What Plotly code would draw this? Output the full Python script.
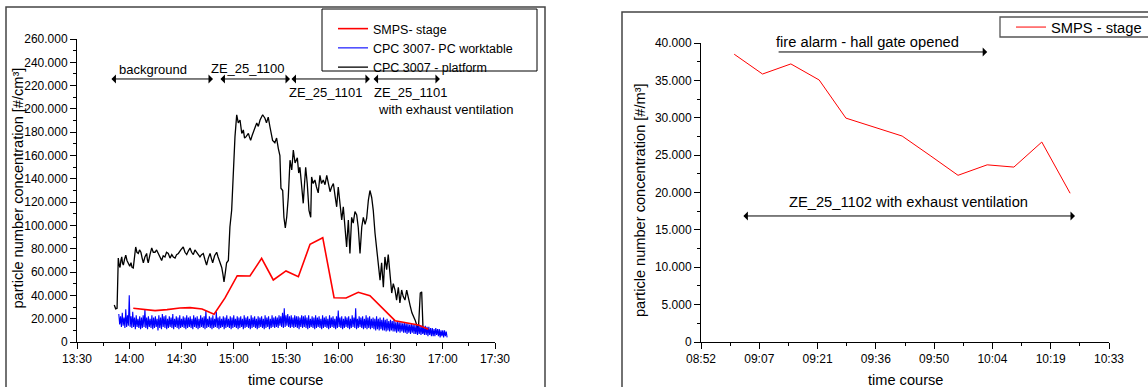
import plotly.graph_objects as go

W, H = 1148, 387
FONT = "Liberation Sans, Arial, sans-serif"

# ---------------- data: left panel (times in minutes after midnight) ----------------
platform_t = [831.4, 832.2, 833.0, 833.7, 834.2, 834.7, 835.2, 835.7, 836.1, 836.6, 837.3, 838.0, 838.7, 839.5,
              840.3, 841.0, 841.6, 842.3, 843.0, 843.7, 844.4, 845.2, 845.9, 846.7, 847.4, 848.1, 849.0, 850.0,
              850.4, 850.9, 851.9, 852.9, 853.8, 854.8, 855.7, 856.7, 857.6, 858.6, 859.5, 860.5, 861.4, 862.4,
              863.4, 864.4, 865.3, 866.3, 867.2, 868.2, 869.6, 871.0, 872.0, 873.0, 873.9, 874.9, 875.8, 876.8,
              877.7, 878.7, 879.6, 880.6, 881.5, 882.5, 883.4, 884.4, 885.4, 886.4, 887.1, 887.9, 889.0, 890.2,
              891.0, 891.7, 892.4, 893.1, 893.8, 894.4, 895.2, 895.9, 896.9, 897.8, 898.8, 899.7, 900.7, 901.7,
              902.2, 902.6, 903.6, 904.6, 905.5, 906.2, 907.0, 908.4, 909.0, 909.7, 910.5, 911.2, 912.2, 913.2,
              914.1, 915.1, 916.6, 917.9, 918.8, 919.8, 920.8, 921.5, 922.3, 923.6, 924.6, 925.6, 926.5, 927.1,
              928.1, 928.8, 929.6, 930.4, 931.3, 932.3, 933.3, 934.2, 935.2, 936.5, 937.3, 938.0, 939.0, 939.9,
              940.6, 941.3, 942.2, 943.2, 944.2, 944.7, 945.6, 946.6, 947.5, 948.5, 949.5, 950.4, 951.4, 952.4,
              953.4, 954.3, 955.3, 956.2, 957.2, 958.2, 959.1, 960.0, 961.0, 962.0, 962.9, 963.9, 964.8, 965.8,
              966.7, 967.7, 968.6, 969.6, 970.6, 971.5, 972.5, 973.5, 974.4, 975.4, 976.3, 977.3, 978.2, 979.2,
              980.1, 981.1, 982.1, 983.0, 984.0, 984.9, 985.9, 986.8, 987.8, 988.7, 989.7, 990.7, 991.6, 992.6,
              993.5, 994.5, 995.4, 996.4, 997.3, 998.3, 999.3, 1000.2, 1001.2, 1002.3, 1004.1, 1006.0, 1007.1,
              1007.9, 1008.7, 1009.5]
platform_k = [31.7, 28.5, 29, 72, 66, 64, 70, 73, 68, 66, 71, 74.6, 70, 67.8,
              65, 68, 64, 63.5, 72, 81.5, 77, 76, 79, 77, 72, 68, 73, 76,
              71, 68, 75, 80.7, 77, 77, 79, 76, 73, 70, 74, 73, 77, 76,
              72, 75, 73, 72, 75, 76, 79, 81.5, 77, 75, 78, 80.7, 77, 75,
              79, 77, 75, 73, 75, 76, 71, 66, 72, 76, 72, 68, 74, 77,
              73, 70, 66, 64, 58, 51.5, 60, 68, 70, 98.7, 113, 150, 176, 195,
              190, 188, 190.5, 179, 182, 175, 176, 179, 176, 173, 177, 180, 183, 188,
              185, 190.5, 195, 192, 188, 193, 184.5, 178, 173, 171, 175, 166, 160, 132,
              130, 107, 98, 107, 124, 156, 147.6, 164.7, 153.6, 158, 145, 150, 133, 119,
              135, 150, 136, 113, 107, 141.6, 136, 139, 133, 128, 143, 136, 139, 135,
              143, 137, 129, 133, 136, 125, 116, 133, 120, 104.7, 116, 96, 81.5, 104.7,
              76, 107, 102, 112, 109, 98, 76, 98.7, 107, 101, 106, 121.8, 130, 124,
              113, 93.5, 79, 70, 53, 68, 47, 73, 62, 75, 56, 42, 50, 44.6,
              36, 47, 33.5, 44.6, 39, 36, 44.6, 37, 31.7, 25, 19, 10.3, 42,
              43, 10.3, 7.7]

# CPC worktable: per-minute maximum and minimum readings, starting at 13:54
worktable_start = 834
worktable_hi_k = [24, 22, 25, 21, 28, 23, 40, 22, 26, 21, 23, 20, 22, 21, 23, 28, 21, 22, 20, 23,
                  21, 22, 20, 23, 21, 24, 22, 23, 20, 22, 21, 24, 20, 22, 21, 23, 20, 22, 21, 23,
                  21, 22, 20, 23, 21, 22, 20, 23, 21, 22, 27, 20, 22, 21, 23, 20, 26, 21, 22, 20,
                  22, 21, 23, 20, 22, 21, 23, 20, 22, 21, 22, 20, 23, 21, 22, 20, 23, 21, 22, 20,
                  22, 21, 22, 20, 23, 21, 22, 20, 23, 21, 22, 21, 23, 22, 25, 29, 23, 24, 22, 23,
                  21, 23, 22, 22, 21, 23, 22, 23, 21, 23, 20, 22, 21, 23, 21, 22, 20, 23, 21, 22,
                  20, 23, 21, 22, 20, 22, 27, 21, 22, 20, 22, 21, 22, 20, 23, 21, 29, 20, 22, 21,
                  22, 20, 23, 21, 22, 20, 21, 20, 22, 20, 21, 19, 21, 19, 20, 18, 19, 18, 19, 17,
                  18, 17, 17, 16, 17, 16, 16, 15, 16, 15, 15, 14, 15, 14, 14, 13, 14, 13, 13, 12,
                  12, 11, 12, 11, 11, 10, 10, 10, 9]
worktable_lo_k = [15, 13, 14, 12, 13, 14, 13, 12, 13, 11, 13, 12, 11, 12, 13, 12, 11, 13, 12, 11,
                  12, 13, 10, 12, 11, 13, 12, 11, 12, 13, 12, 11, 13, 12, 11, 12, 13, 12, 11, 12,
                  13, 12, 11, 13, 12, 11, 12, 13, 12, 11, 12, 13, 12, 11, 12, 13, 12, 11, 12, 13,
                  11, 12, 13, 12, 11, 12, 13, 12, 11, 12, 13, 11, 12, 13, 12, 11, 12, 13, 12, 11,
                  12, 13, 12, 11, 12, 13, 11, 12, 13, 12, 13, 12, 14, 13, 12, 13, 14, 13, 12, 13,
                  12, 13, 12, 11, 13, 12, 13, 12, 11, 12, 13, 12, 11, 12, 13, 12, 11, 12, 13, 12,
                  11, 12, 13, 12, 11, 12, 13, 12, 11, 12, 13, 12, 11, 12, 13, 12, 11, 12, 13, 12,
                  11, 12, 11, 12, 11, 12, 11, 10, 11, 10, 11, 10, 10, 9, 10, 9, 10, 9, 9, 8,
                  9, 8, 9, 8, 8, 7, 8, 7, 8, 7, 7, 6, 7, 6, 7, 6, 6, 5, 6, 5,
                  5, 5, 6, 5, 4, 5, 4, 5, 4]
worktable_t = []
worktable_k = []
for i, (hi, lo) in enumerate(zip(worktable_hi_k, worktable_lo_k)):
    worktable_t += [worktable_start + i, worktable_start + i + 0.5]
    worktable_k += [hi, lo]

smps_left_t = [842.3, 849.0, 854.8, 861.7, 869.1, 874.9, 881.8, 888.7, 895.0, 902.0, 909.3, 916.0,
               922.7, 930.0, 937.1, 943.8, 951.1, 957.6, 964.5, 971.5, 978.2, 992.6, 1006.0, 1011.7]
smps_left_k = [28.9, 27.8, 26.9, 27.8, 29.2, 29.5, 28.3, 23.8, 37.8, 56.9, 56.6, 71.8,
               53.2, 61.0, 56.0, 83.8, 89.5, 38.0, 37.8, 42.6, 39.7, 18.3, 14.6, 10.9]

left_x_ticks = [810, 840, 870, 900, 930, 960, 990, 1020, 1050]
left_x_labels = ["13:30", "14:00", "14:30", "15:00", "15:30", "16:00", "16:30", "17:00", "17:30"]
left_y_ticks = list(range(0, 260001, 20000))
left_y_labels = ["0"] + [f"{v // 1000}.000" for v in left_y_ticks[1:]]

# ---------------- data: right panel ----------------
smps_right_t = [541.0, 548.0, 555.0, 562.0, 568.6, 575.5, 582.5, 589.4, 596.3, 603.5, 610.1, 617.0, 624.0]
smps_right_k = [38.5, 35.85, 37.2, 35.05, 29.95, 28.75, 27.55, 24.95, 22.3, 23.7, 23.4, 26.75, 19.9]

right_x_ticks = [532.8, 547.2, 561.6, 576.0, 590.4, 604.8, 619.2, 633.6]
right_x_labels = ["08:52", "09:07", "09:21", "09:36", "09:50", "10:04", "10:19", "10:33"]
right_y_ticks = list(range(0, 40001, 5000))
right_y_labels = ["0"] + [f"{v // 1000}.000" for v in right_y_ticks[1:]]


def px(x):
    return x / W


def py(y):
    return 1 - y / H


fig = go.Figure()

fig.add_trace(go.Scatter(x=platform_t, y=[v * 1000 for v in platform_k], mode="lines",
                         line=dict(color="black", width=1.3), name="CPC 3007 - platform",
                         xaxis="x", yaxis="y", legend="legend", legendrank=3))
fig.add_trace(go.Scatter(x=worktable_t, y=[v * 1000 for v in worktable_k], mode="lines",
                         line=dict(color="#0000FF", width=1.1), name="CPC 3007- PC worktable",
                         xaxis="x", yaxis="y", legend="legend", legendrank=2))
fig.add_trace(go.Scatter(x=smps_left_t, y=[v * 1000 for v in smps_left_k], mode="lines",
                         line=dict(color="#FF0000", width=1.6), name="SMPS- stage",
                         xaxis="x", yaxis="y", legend="legend", legendrank=1))
fig.add_trace(go.Scatter(x=smps_right_t, y=[v * 1000 for v in smps_right_k], mode="lines",
                         line=dict(color="#FF0000", width=1), name="SMPS - stage",
                         xaxis="x2", yaxis="y2", legend="legend2"))

axis_common = dict(showline=True, linecolor="black", linewidth=1, ticks="outside", ticklen=6,
                   tickcolor="black", tickwidth=1, showgrid=False, zeroline=False, automargin=False,
                   tickfont=dict(family=FONT, size=12, color="black"), tickmode="array")

fig.update_layout(
    width=W, height=H, margin=dict(l=0, r=0, t=0, b=0, autoexpand=False),
    paper_bgcolor="white", plot_bgcolor="white",
    font=dict(family=FONT, color="black"),
    xaxis=dict(domain=[px(77), px(495)], range=[810, 1050], tickvals=left_x_ticks, ticktext=left_x_labels,
               minor=dict(tickmode="array", tickvals=[t + 15 for t in left_x_ticks[:-1]], ticklen=3,
                          ticks="outside", tickcolor="black"),
               anchor="y", **axis_common),
    yaxis=dict(domain=[py(342), py(39)], range=[0, 260000], tickvals=left_y_ticks, ticktext=left_y_labels,
               minor=dict(tickmode="array", tickvals=[t + 10000 for t in left_y_ticks[:-1]], ticklen=3,
                          ticks="outside", tickcolor="black"),
               anchor="x", **axis_common),
    xaxis2=dict(domain=[px(701), px(1109)], range=[532.8, 633.6], tickvals=right_x_ticks, ticktext=right_x_labels,
                minor=dict(tickmode="array", tickvals=[t + 7.2 for t in right_x_ticks[:-1]], ticklen=3,
                           ticks="outside", tickcolor="black"),
                anchor="y2", **axis_common),
    yaxis2=dict(domain=[py(342), py(43)], range=[0, 40000], tickvals=right_y_ticks, ticktext=right_y_labels,
                minor=dict(tickmode="array", tickvals=[t + 2500 for t in right_y_ticks[:-1]], ticklen=3,
                           ticks="outside", tickcolor="black"),
                anchor="x2", **axis_common),
    legend=dict(x=px(333), y=py(14), xanchor="left", yanchor="top", bgcolor="rgba(0,0,0,0)",
                borderwidth=0, font=dict(family=FONT, size=12.5, color="black"), tracegroupgap=0),
    legend2=dict(x=px(1011), y=py(11), xanchor="left", yanchor="top", bgcolor="rgba(0,0,0,0)",
                 borderwidth=0, font=dict(family=FONT, size=14.7, color="black")),
)

shapes = [
    # outer frames
    dict(type="rect", xref="paper", yref="paper", x0=px(6), x1=px(545), y0=py(420), y1=py(7),
         line=dict(color="#444444", width=1.5)),
    dict(type="rect", xref="paper", yref="paper", x0=px(622), x1=px(1200), y0=py(420), y1=py(12),
         line=dict(color="#444444", width=1.5)),
    # legend boxes
    dict(type="rect", xref="paper", yref="paper", x0=px(322), x1=px(537), y0=py(71), y1=py(9),
         line=dict(color="black", width=1), fillcolor="white", layer="below"),
    dict(type="rect", xref="paper", yref="paper", x0=px(1000), x1=px(1200), y0=py(37), y1=py(17),
         line=dict(color="#555555", width=1.3), fillcolor="white", layer="below"),
]
fig.update_layout(shapes=shapes)

ann = []


def arrow(x_head, x_tail, yv, xr, yr, both=True):
    ann.append(dict(x=x_head, y=yv, ax=x_tail, ay=yv, xref=xr, yref=yr, axref=xr, ayref=yr,
                    text="", showarrow=True, arrowhead=1, arrowsize=1.5, arrowwidth=1,
                    arrowcolor="black", arrowside="end+start" if both else "end",
                    standoff=0, startstandoff=0, font=dict(size=1)))


def label(text, xp, yp, size, **kw):
    ann.append(dict(text=text, x=px(xp), y=py(yp), xref="paper", yref="paper", showarrow=False,
                    font=dict(family=FONT, size=size, color="black"), xanchor="center", yanchor="middle", **kw))


# left period arrows (y value of arrow line)
left_arrow_y = 225700
arrow(888.1, 828.9, left_arrow_y, "x", "y")
arrow(932.3, 891.5, left_arrow_y, "x", "y")
arrow(978.2, 932.3, left_arrow_y, "x", "y")
arrow(1018.4, 979.4, left_arrow_y, "x", "y")
label("background", 152.5, 70, 13)
label("ZE_25_1100", 248, 68, 13)
label("ZE_25_1101", 326, 92, 13)
label("ZE_25_1101", 411, 92, 13)
label("with exhaust ventilation", 446, 109, 13)

# right period arrows
arrow(603.5, 551.6, 38800, "x2", "y2", both=False)
arrow(625.2, 542.9, 16860, "x2", "y2")
label("fire alarm - hall gate opened", 867.5, 42, 14.7)
label("ZE_25_1102 with exhaust ventilation", 908, 202, 14.7)

# axis titles
label("particle number concentration [#/cm³]", 17.5, 188, 14.6, textangle=-90)
label("time course", 285.5, 380, 14.6)
label("particle number concentration [#/m³]", 640, 200, 14.6, textangle=-90)
label("time course", 905, 380, 14.6)

fig.update_layout(annotations=ann)

fig.write_html("out.html")
